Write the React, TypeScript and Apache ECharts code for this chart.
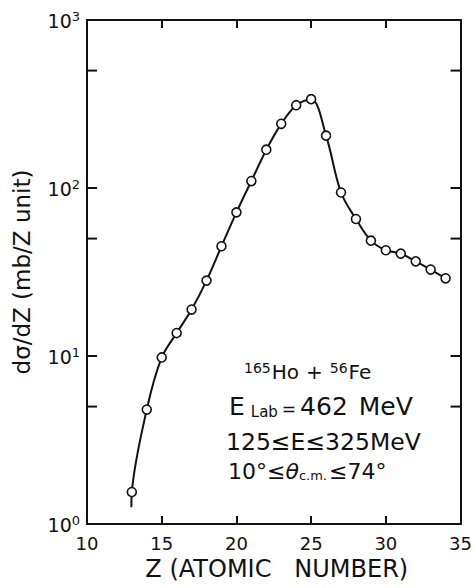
import React, { useEffect, useRef } from "react";
import * as echarts from "echarts";

const zValues = [13, 14, 15, 16, 17, 18, 19, 20, 21, 22, 23, 24, 25, 26, 27, 28, 29, 30, 31, 32, 33, 34];
const crossSections = [1.55, 4.8, 9.8, 13.7, 18.9, 28.1, 45, 71.6, 110, 169, 241, 311, 338, 205, 94, 65.4, 48.6, 42.6, 40.7, 36.6, 32.7, 29];
const curveTailZ = [12.97];
const curveTailValues = [1.26];
const minorTickValues = [5, 50, 500];
const rightMajorTickValues = [10, 100];
const yAxisName = "dσ/dZ (mb/Z unit)";
const xAxisName = "Z (ATOMIC   NUMBER)";

const FONT = "DejaVu Sans";
const INK = "#111";

export default function App() {
  const ref = useRef<HTMLDivElement>(null);
  useEffect(() => {
    if (!ref.current) return;
    const chart = echarts.init(ref.current, undefined, { renderer: "svg" });
    const points = zValues.map((z, i) => [z, crossSections[i]]);
    const curve = [...curveTailZ.map((z, i) => [z, curveTailValues[i]]), ...points];
    const axisLine = { show: true, lineStyle: { color: INK, width: 2 } };
    chart.setOption({
      animation: false,
      backgroundColor: "#fff",
      grid: { left: 87, right: 13, top: 20, bottom: 64 },
      xAxis: [
        {
          type: "value", min: 10, max: 35, interval: 5, position: "bottom",
          axisLine, splitLine: { show: false },
          axisTick: { inside: true, length: 8, lineStyle: { color: INK, width: 2 } },
          axisLabel: { color: INK, fontFamily: FONT, fontSize: 18, margin: 10 },
        },
        {
          type: "value", min: 10, max: 35, interval: 5, position: "top",
          axisLine, splitLine: { show: false },
          axisTick: { inside: true, length: 8, lineStyle: { color: INK, width: 2 } },
          axisLabel: { show: false },
        },
      ],
      yAxis: [
        {
          type: "log", logBase: 10, min: 1, max: 1000, position: "left",
          axisLine, splitLine: { show: false }, minorTick: { show: false },
          axisTick: { inside: true, length: 10, lineStyle: { color: INK, width: 2 } },
          axisLabel: {
            color: INK, fontFamily: FONT, margin: 7,
            formatter: (v: number) => "{b|10}{sup|" + Math.round(Math.log10(v)) + "}",
            rich: {
              b: { fontSize: 19, fontFamily: FONT, color: INK, verticalAlign: "bottom" },
              sup: { fontSize: 13, fontFamily: FONT, color: INK, verticalAlign: "bottom", padding: [0, 0, 8, 0] },
            },
          },
        },
        {
          type: "log", logBase: 10, min: 1, max: 1000, position: "right",
          axisLine, splitLine: { show: false },
          axisTick: { show: false },
          axisLabel: { show: false },
        },
      ],
      series: [
        {
          type: "line", data: curve, smooth: 0.35, symbol: "none",
          lineStyle: { color: INK, width: 2 }, z: 2,
        },
        {
          type: "scatter", data: points, symbol: "circle", symbolSize: 9,
          itemStyle: { color: "#fff", borderColor: INK, borderWidth: 1.6, opacity: 1 }, z: 3,
        },
      ],
    });

    const p = (x: number, y: number) => chart.convertToPixel({ xAxisIndex: 0, yAxisIndex: 0 }, [x, y]) as number[];
    const ticks: any[] = [];
    const lineStyle = { stroke: INK, lineWidth: 2 };
    minorTickValues.concat(rightMajorTickValues).forEach((v) => {
      const l = p(10, v);
      const r = p(35, v);
      if (minorTickValues.includes(v)) {
        ticks.push({ type: "line", shape: { x1: l[0], y1: l[1], x2: l[0] + 10, y2: l[1] }, style: lineStyle });
      }
      ticks.push({ type: "line", shape: { x1: r[0] - 10, y1: r[1], x2: r[0], y2: r[1] }, style: lineStyle });
    });

    const plotL = p(10, 1)[0];
    const plotR = p(35, 1)[0];
    const plotT = p(10, 1000)[1];
    const plotB = p(10, 1)[1];

    const tok = (size: number, extra: any = {}) => ({
      fontSize: size, fontFamily: FONT, fill: INK, verticalAlign: "bottom", ...extra,
    });
    const annot = (x: number, y: number, text: string, rich: any) => ({
      type: "text", x, y,
      style: { text, rich, fill: INK, fontFamily: FONT, fontSize: 20, align: "left", verticalAlign: "bottom" },
    });

    chart.setOption({
      graphic: [
        ...ticks,
        annot(244, 382, "{sup|165}{m|Ho}{pl|+}{sup|56}{m|Fe}", {
          m: tok(20),
          pl: tok(20, { padding: [0, 7, 0, 7] }),
          sup: tok(14, { padding: [0, 1, 7, 0] }),
        }),
        annot(229, 419, "{m|E}{sub|Lab}{eq|=}{m|462}{sp| }{m|MeV}", {
          m: tok(25),
          sp: tok(25, { padding: [0, 3, 0, 0] }),
          eq: tok(17, { padding: [0, 4, 2, 3] }),
          sub: tok(15, { padding: [0, 1, 0, 6] }),
        }),
        annot(226, 454, "{m|125≤E≤325MeV}", { m: tok(23.5) }),
        annot(228, 482, "{m|10°≤}{th|θ}{sub|c.m.}{m|≤74°}", {
          m: tok(22),
          th: tok(22, { fontStyle: "italic" }),
          sub: tok(13, { padding: [0, 2, 0, 0] }),
        }),
        {
          type: "text", x: 22, y: (plotT + plotB) / 2, rotation: Math.PI / 2,
          style: { text: yAxisName, fill: INK, fontFamily: FONT, fontSize: 23, align: "center", verticalAlign: "middle" },
        },
        {
          type: "text", x: (plotL + plotR) / 2 + 3, y: 569,
          style: { text: xAxisName, fill: INK, fontFamily: FONT, fontSize: 24, align: "center", verticalAlign: "middle" },
        },
      ],
    });
    return () => chart.dispose();
  }, []);
  return <div ref={ref} style={{ position: "fixed", left: 0, top: 0, width: 475, height: 588 }} />;
}
